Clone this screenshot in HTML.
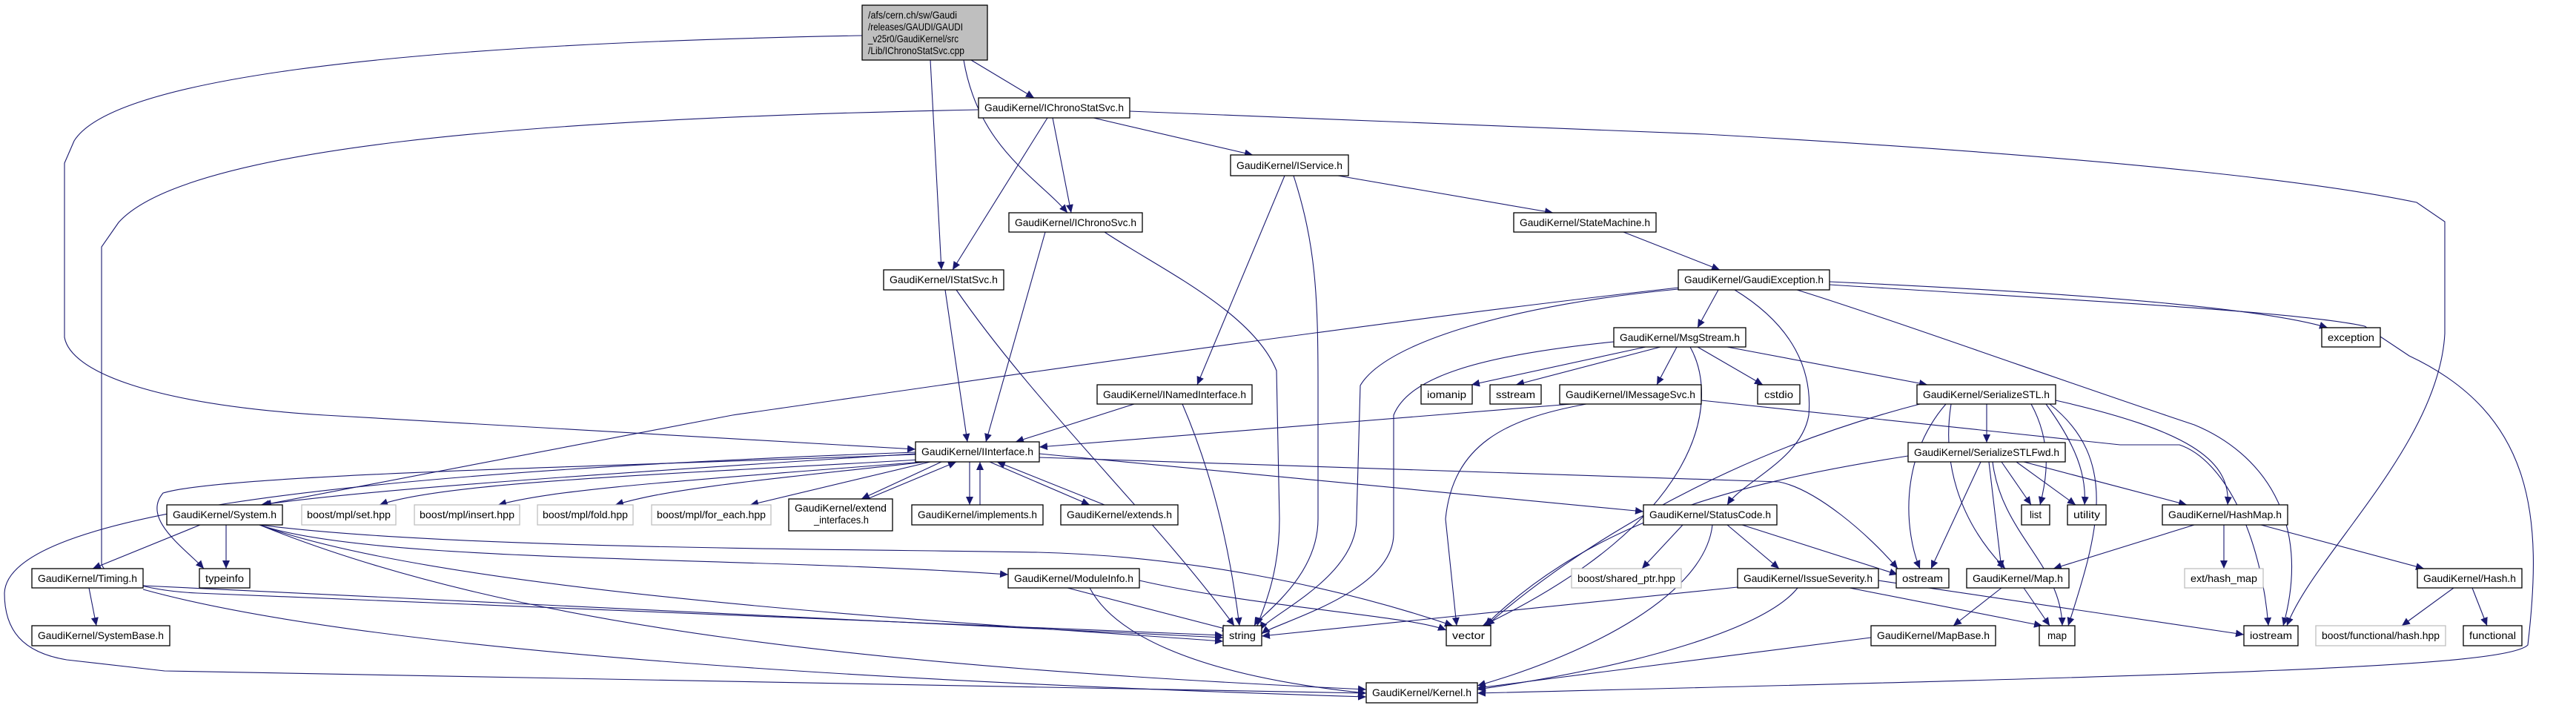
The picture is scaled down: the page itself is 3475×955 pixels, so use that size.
<!DOCTYPE html>
<html><head><meta charset="utf-8"><style>
html,body{margin:0;padding:0;background:#fff;}
svg{display:block;}
text{font-family:"Liberation Sans",sans-serif;font-size:14px;fill:#000;}
.n{fill:#fff;stroke:#000;stroke-width:1.3;}
.g{fill:#fff;stroke:#bfbfbf;stroke-width:1.3;}
.e{fill:none;stroke:#191970;stroke-width:1.1;}
</style></head><body>
<svg width="3475" height="955" viewBox="0 0 3475 955" xmlns="http://www.w3.org/2000/svg">
<defs><marker id="a" markerUnits="userSpaceOnUse" markerWidth="12" markerHeight="10" refX="11" refY="5" orient="auto"><path d="M0,0 L11,5 L0,10 z" fill="#191970"/></marker></defs>
<g class="e" marker-end="url(#a)">
<path d="M1310,81 L1395,132"/>
<path d="M1300,81 C1320,200 1400,240 1440,287"/>
<path d="M1255,81 L1270,364"/>
<path d="M1163,48 C500,60 150,110 100,190 L87,220 L87,455 C95,500 200,545 438,560 L1235,606"/>
<path d="M1320,148 C700,160 250,200 160,300 L137,333 L137,760 C140,780 200,797 266,800 L1650,857"/>
<path d="M1475,159 L1690,209"/>
<path d="M1420,159 L1445,287"/>
<path d="M1413,159 L1285,364"/>
<path d="M1524,150 L2300,181 C2900,215 3150,250 3260,273 L3298,299 L3298,450 C3290,600 3120,750 3085,844"/>
<path d="M1805,237 L2095,287"/>
<path d="M1733,237 L1615,519"/>
<path d="M1745,237 C1775,330 1778,400 1778,520 L1778,700 C1778,780 1700,830 1692,844"/>
<path d="M2190,313 L2320,364"/>
<path d="M1410,313 L1330,596"/>
<path d="M1490,313 C1560,360 1690,420 1722,500 L1726,700 C1726,780 1700,830 1696,844"/>
<path d="M1275,391 L1305,596"/>
<path d="M1290,391 C1400,550 1560,700 1665,844"/>
<path d="M2318,391 L2290,442"/>
<path d="M2468,380 C2800,395 3050,415 3140,442"/>
<path d="M2264,388 C1800,440 1200,530 988,560 L355,681"/>
<path d="M2264,390 C2050,410 1870,460 1835,520 L1830,700 C1830,780 1710,830 1700,850"/>
<path d="M2340,391 C2420,440 2445,500 2440,560 C2430,620 2350,650 2330,681"/>
<path d="M2424,391 C2550,430 2800,520 2960,573 C3050,610 3120,700 3080,844"/>
<path d="M2468,384 C2800,405 3100,420 3190,440 L3250,480 C3420,560 3430,700 3410,870 C3380,900 3000,910 1993,935"/>
<path d="M2220,468 L1985,519"/>
<path d="M2240,468 L2045,519"/>
<path d="M2262,468 L2235,519"/>
<path d="M2290,468 L2378,519"/>
<path d="M2330,468 L2600,519"/>
<path d="M2177,461 C1990,480 1900,510 1880,560 L1880,720 C1880,800 1720,840 1702,855"/>
<path d="M2280,468 C2320,540 2300,700 2000,844"/>
<path d="M1530,545 L1370,596"/>
<path d="M1595,545 C1640,650 1660,750 1672,844"/>
<path d="M2120,545 L1402,603"/>
<path d="M2140,545 C2030,565 1960,600 1950,700 L1965,844"/>
<path d="M2295,540 L2860,600 L2940,600 C3000,620 3050,720 3060,844"/>
<path d="M2680,545 L2680,597"/>
<path d="M2590,545 C2300,620 2100,760 2005,844"/>
<path d="M2625,545 C2560,620 2570,720 2590,767"/>
<path d="M2632,545 C2620,620 2640,700 2705,767"/>
<path d="M2740,545 C2770,600 2760,650 2752,681"/>
<path d="M2760,545 C2800,600 2815,640 2812,681"/>
<path d="M2765,545 C2860,620 2830,720 2790,844"/>
<path d="M2773,540 C2950,580 3010,620 3005,681"/>
<path d="M2574,615 C2350,650 2150,700 2003,844"/>
<path d="M2672,623 L2605,767"/>
<path d="M2683,623 L2700,767"/>
<path d="M2700,623 L2740,681"/>
<path d="M2720,623 L2800,681"/>
<path d="M2688,623 C2700,720 2780,760 2782,844"/>
<path d="M2730,623 L2950,681"/>
<path d="M1235,612 C800,640 500,660 352,681"/>
<path d="M1240,620 C900,640 600,650 512,681"/>
<path d="M1245,623 C900,650 750,660 672,681"/>
<path d="M1250,623 C1000,650 900,660 830,681"/>
<path d="M1255,623 L1012,681"/>
<path d="M1270,623 L1162,673"/>
<path d="M1170,673 L1290,623"/>
<path d="M1308,623 L1308,681"/>
<path d="M1322,681 L1322,623"/>
<path d="M1335,623 L1470,681"/>
<path d="M1490,681 L1345,623"/>
<path d="M1402,612 L2217,690"/>
<path d="M1402,617 L2400,650 C2450,660 2520,720 2560,767"/>
<path d="M1235,613 C800,630 300,640 220,665 C190,700 250,740 275,767"/>
<path d="M1235,610 C400,640 10,700 6,800 C6,850 30,880 90,890 L222,905 L1843,935"/>
<path d="M270,708 L125,767"/>
<path d="M305,708 L305,767"/>
<path d="M350,708 C500,760 1000,750 1360,775"/>
<path d="M350,708 C600,800 1300,840 1650,865"/>
<path d="M350,708 C600,740 1100,740 1400,745 C1600,750 1800,790 1960,844"/>
<path d="M350,708 C700,850 1200,900 1843,930"/>
<path d="M120,793 L130,844"/>
<path d="M193,790 L1650,860"/>
<path d="M193,795 C500,880 1200,920 1843,940"/>
<path d="M1440,793 L1660,850"/>
<path d="M1537,783 C1700,820 1900,830 1951,850"/>
<path d="M1470,793 C1500,850 1600,910 1843,935"/>
<path d="M2270,708 L2215,767"/>
<path d="M2330,708 L2400,767"/>
<path d="M2350,708 L2560,775"/>
<path d="M2310,708 C2300,800 2150,880 1993,925"/>
<path d="M2344,792 L1702,858"/>
<path d="M2495,793 L2755,844"/>
<path d="M2534,783 L3027,856"/>
<path d="M2425,793 C2380,850 2200,900 1993,930"/>
<path d="M2960,708 L2770,767"/>
<path d="M3000,708 L3000,767"/>
<path d="M3050,708 L3270,767"/>
<path d="M2700,793 L2635,844"/>
<path d="M2730,793 L2765,844"/>
<path d="M2524,860 L1993,928"/>
<path d="M3310,793 L3240,844"/>
<path d="M3335,793 L3355,844"/>
</g>
<rect x="1163" y="7" width="169" height="74" fill="#bfbfbf" stroke="#000" stroke-width="1.3"/>
<text x="1171" y="25" textLength="120" lengthAdjust="spacingAndGlyphs">/afs/cern.ch/sw/Gaudi</text>
<text x="1171" y="41" textLength="128" lengthAdjust="spacingAndGlyphs">/releases/GAUDI/GAUDI</text>
<text x="1171" y="57" textLength="122" lengthAdjust="spacingAndGlyphs">_v25r0/GaudiKernel/src</text>
<text x="1171" y="73" textLength="130" lengthAdjust="spacingAndGlyphs">/Lib/IChronoStatSvc.cpp</text>
<g>
<rect class="n" x="1320" y="132" width="204" height="27"/><text x="1328" y="150" textLength="188" lengthAdjust="spacingAndGlyphs">GaudiKernel/IChronoStatSvc.h</text>
<rect class="n" x="1660" y="209" width="159" height="28"/><text x="1668" y="228" textLength="143" lengthAdjust="spacingAndGlyphs">GaudiKernel/IService.h</text>
<rect class="n" x="1361" y="287" width="180" height="26"/><text x="1369" y="305" textLength="164" lengthAdjust="spacingAndGlyphs">GaudiKernel/IChronoSvc.h</text>
<rect class="n" x="2042" y="287" width="192" height="26"/><text x="2050" y="305" textLength="176" lengthAdjust="spacingAndGlyphs">GaudiKernel/StateMachine.h</text>
<rect class="n" x="1192" y="364" width="162" height="27"/><text x="1200" y="382" textLength="146" lengthAdjust="spacingAndGlyphs">GaudiKernel/IStatSvc.h</text>
<rect class="n" x="2264" y="364" width="204" height="27"/><text x="2272" y="382" textLength="188" lengthAdjust="spacingAndGlyphs">GaudiKernel/GaudiException.h</text>
<rect class="n" x="2177" y="442" width="178" height="26"/><text x="2185" y="460" textLength="162" lengthAdjust="spacingAndGlyphs">GaudiKernel/MsgStream.h</text>
<rect class="n" x="3132" y="442" width="79" height="26"/><text x="3140" y="460" textLength="63" lengthAdjust="spacingAndGlyphs">exception</text>
<rect class="n" x="1480" y="519" width="209" height="26"/><text x="1488" y="537" textLength="193" lengthAdjust="spacingAndGlyphs">GaudiKernel/INamedInterface.h</text>
<rect class="n" x="1917" y="519" width="69" height="26"/><text x="1925" y="537" textLength="53" lengthAdjust="spacingAndGlyphs">iomanip</text>
<rect class="n" x="2010" y="519" width="69" height="26"/><text x="2018" y="537" textLength="53" lengthAdjust="spacingAndGlyphs">sstream</text>
<rect class="n" x="2104" y="519" width="191" height="26"/><text x="2112" y="537" textLength="175" lengthAdjust="spacingAndGlyphs">GaudiKernel/IMessageSvc.h</text>
<rect class="n" x="2371" y="519" width="57" height="26"/><text x="2380" y="537" textLength="39" lengthAdjust="spacingAndGlyphs">cstdio</text>
<rect class="n" x="2586" y="519" width="187" height="26"/><text x="2594" y="537" textLength="171" lengthAdjust="spacingAndGlyphs">GaudiKernel/SerializeSTL.h</text>
<rect class="n" x="1235" y="596" width="167" height="27"/><text x="1243" y="614" textLength="151" lengthAdjust="spacingAndGlyphs">GaudiKernel/IInterface.h</text>
<rect class="n" x="2574" y="597" width="212" height="26"/><text x="2582" y="615" textLength="196" lengthAdjust="spacingAndGlyphs">GaudiKernel/SerializeSTLFwd.h</text>
<rect class="n" x="225" y="681" width="156" height="27"/><text x="233" y="699" textLength="140" lengthAdjust="spacingAndGlyphs">GaudiKernel/System.h</text>
<rect class="g" x="407" y="681" width="127" height="27"/><text x="414" y="699" textLength="113" lengthAdjust="spacingAndGlyphs">boost/mpl/set.hpp</text>
<rect class="g" x="559" y="681" width="142" height="27"/><text x="566" y="699" textLength="128" lengthAdjust="spacingAndGlyphs">boost/mpl/insert.hpp</text>
<rect class="g" x="725" y="681" width="129" height="27"/><text x="732" y="699" textLength="115" lengthAdjust="spacingAndGlyphs">boost/mpl/fold.hpp</text>
<rect class="g" x="879" y="681" width="161" height="27"/><text x="886" y="699" textLength="147" lengthAdjust="spacingAndGlyphs">boost/mpl/for_each.hpp</text>
<rect class="n" x="1064" y="673" width="140" height="43"/><text x="1072" y="690" textLength="124" lengthAdjust="spacingAndGlyphs">GaudiKernel/extend</text><text x="1098" y="706" textLength="74" lengthAdjust="spacingAndGlyphs">_interfaces.h</text>
<rect class="n" x="1230" y="681" width="177" height="27"/><text x="1238" y="699" textLength="161" lengthAdjust="spacingAndGlyphs">GaudiKernel/implements.h</text>
<rect class="n" x="1431" y="681" width="158" height="27"/><text x="1439" y="699" textLength="142" lengthAdjust="spacingAndGlyphs">GaudiKernel/extends.h</text>
<rect class="n" x="2217" y="681" width="180" height="27"/><text x="2225" y="699" textLength="164" lengthAdjust="spacingAndGlyphs">GaudiKernel/StatusCode.h</text>
<rect class="n" x="2727" y="681" width="38" height="27"/><text x="2738" y="699" textLength="16" lengthAdjust="spacingAndGlyphs">list</text>
<rect class="n" x="2789" y="681" width="52" height="27"/><text x="2797" y="699" textLength="36" lengthAdjust="spacingAndGlyphs">utility</text>
<rect class="n" x="2917" y="681" width="169" height="27"/><text x="2925" y="699" textLength="153" lengthAdjust="spacingAndGlyphs">GaudiKernel/HashMap.h</text>
<rect class="n" x="43" y="767" width="150" height="26"/><text x="51" y="785" textLength="134" lengthAdjust="spacingAndGlyphs">GaudiKernel/Timing.h</text>
<rect class="n" x="269" y="767" width="68" height="26"/><text x="277" y="785" textLength="52" lengthAdjust="spacingAndGlyphs">typeinfo</text>
<rect class="n" x="1360" y="767" width="177" height="26"/><text x="1368" y="785" textLength="161" lengthAdjust="spacingAndGlyphs">GaudiKernel/ModuleInfo.h</text>
<rect class="g" x="2120" y="767" width="148" height="26"/><text x="2128" y="785" textLength="132" lengthAdjust="spacingAndGlyphs">boost/shared_ptr.hpp</text>
<rect class="n" x="2344" y="767" width="190" height="26"/><text x="2352" y="785" textLength="174" lengthAdjust="spacingAndGlyphs">GaudiKernel/IssueSeverity.h</text>
<rect class="n" x="2558" y="767" width="71" height="26"/><text x="2566" y="785" textLength="55" lengthAdjust="spacingAndGlyphs">ostream</text>
<rect class="n" x="2653" y="767" width="138" height="26"/><text x="2661" y="785" textLength="122" lengthAdjust="spacingAndGlyphs">GaudiKernel/Map.h</text>
<rect class="g" x="2947" y="767" width="106" height="26"/><text x="2955" y="785" textLength="90" lengthAdjust="spacingAndGlyphs">ext/hash_map</text>
<rect class="n" x="3261" y="767" width="141" height="26"/><text x="3269" y="785" textLength="125" lengthAdjust="spacingAndGlyphs">GaudiKernel/Hash.h</text>
<rect class="n" x="43" y="844" width="186" height="27"/><text x="51" y="862" textLength="170" lengthAdjust="spacingAndGlyphs">GaudiKernel/SystemBase.h</text>
<rect class="n" x="1650" y="844" width="52" height="27"/><text x="1658" y="862" textLength="36" lengthAdjust="spacingAndGlyphs">string</text>
<rect class="n" x="1951" y="844" width="60" height="27"/><text x="1959" y="862" textLength="44" lengthAdjust="spacingAndGlyphs">vector</text>
<rect class="n" x="2524" y="844" width="168" height="27"/><text x="2532" y="862" textLength="152" lengthAdjust="spacingAndGlyphs">GaudiKernel/MapBase.h</text>
<rect class="n" x="2751" y="844" width="48" height="27"/><text x="2762" y="862" textLength="26" lengthAdjust="spacingAndGlyphs">map</text>
<rect class="n" x="3027" y="844" width="73" height="27"/><text x="3035" y="862" textLength="57" lengthAdjust="spacingAndGlyphs">iostream</text>
<rect class="g" x="3124" y="844" width="175" height="27"/><text x="3132" y="862" textLength="159" lengthAdjust="spacingAndGlyphs">boost/functional/hash.hpp</text>
<rect class="n" x="3323" y="844" width="79" height="27"/><text x="3331" y="862" textLength="63" lengthAdjust="spacingAndGlyphs">functional</text>
<rect class="n" x="1843" y="921" width="150" height="27"/><text x="1851" y="939" textLength="134" lengthAdjust="spacingAndGlyphs">GaudiKernel/Kernel.h</text>
</g>
</svg>
</body></html>
